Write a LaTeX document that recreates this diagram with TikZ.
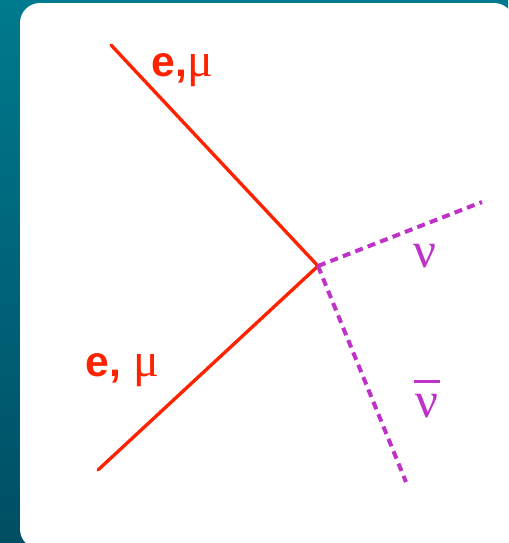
\documentclass[tikz,border=0pt]{standalone}
\usepackage{fontspec}
\setmainfont{Liberation Serif}
\newfontfamily\lepfont{Liberation Sans}
\newfontfamily\greekfont{Liberation Serif}
\usetikzlibrary{calc}
\definecolor{tealtop}{RGB}{0,122,142}
\definecolor{tealbot}{RGB}{0,78,100}
\definecolor{lepred}{RGB}{255,34,0}
\definecolor{nupurple}{RGB}{190,50,200}

\begin{document}
\begin{tikzpicture}[x=0.75pt,y=-0.75pt,line width=2.5pt,
  lepton/.style={lepred,line cap=round},
  neutrino/.style={nupurple,line width=3pt,dash pattern=on 6pt off 4pt},
  leplabel/.style={text=lepred,font=\lepfont\bfseries\fontsize{32}{36}\selectfont,inner sep=0pt},
  nulabel/.style={text=nupurple,font=\greekfont\fontsize{38}{44}\selectfont,inner sep=0pt}]
  \useasboundingbox (0,0) rectangle (508,543);
  \shade[top color=tealtop,bottom color=tealbot] (0,0) rectangle (508,543);
  \fill[white,rounded corners=15pt] (20,3) rectangle (514,549);
  % vertex and outer ends
  \coordinate (V) at (318,266);
  \coordinate (Lin) at (111,45); \coordinate (Lout) at (98,470);
  \coordinate (Nu) at (482,202); \coordinate (Nubar) at (406,482);
  \draw[lepton] (Lin)--(V);
  \draw[lepton] (Lout)--(V);
  \draw[neutrino] (V)--(Nu);
  \draw[neutrino] (V)--(Nubar);
  \node[leplabel,anchor=base west] (lab1) at (150,76){e,{\greekfont\mdseries\fontsize{36}{40}\selectfont μ}};
  \node[leplabel,anchor=base west] (lab2) at (84,376){e, {\greekfont\mdseries\fontsize{36}{40}\selectfont μ}};
  \node[nulabel,anchor=base] (nulab) at (425,267){ν};
  \node[nulabel,anchor=base] (nubarlab) at (427,417){ν};
  \draw[nupurple,line width=2.2pt] ($(nubarlab.north west)+(0,-11)$)--($(nubarlab.north east)+(0,-11)$);
\end{tikzpicture}
\end{document}
